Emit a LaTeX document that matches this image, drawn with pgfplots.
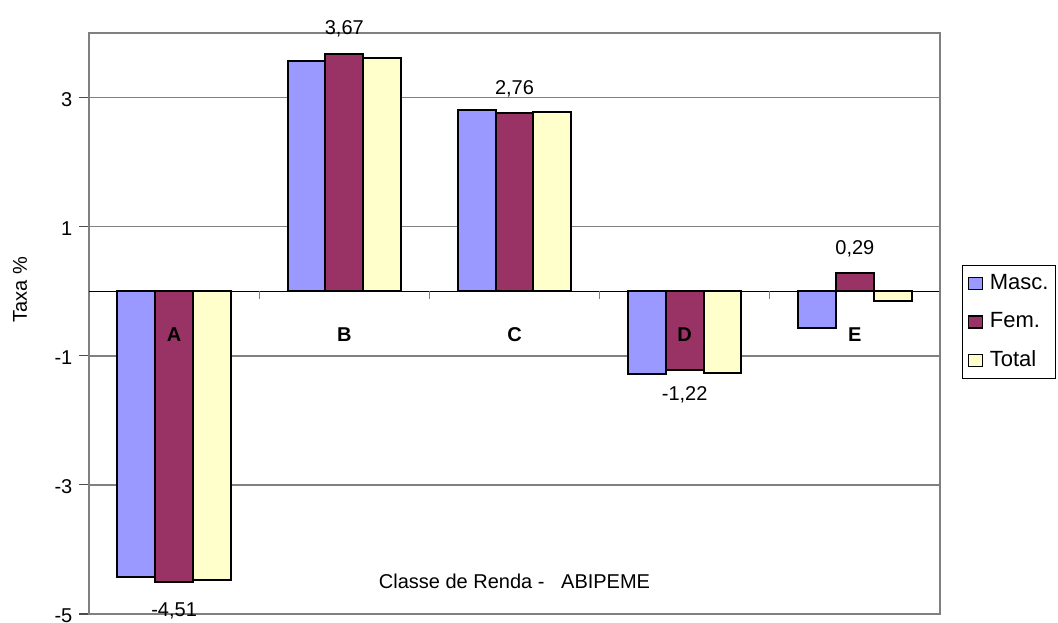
\documentclass[border=0pt]{standalone}
\usepackage{fontspec}
\setmainfont{Liberation Sans}
\usepackage{pgfplots}
\pgfplotsset{compat=1.18}
\definecolor{masc}{HTML}{9999FF}
\definecolor{fem}{HTML}{993366}
\definecolor{tot}{HTML}{FFFFCC}
\definecolor{axgray}{HTML}{808080}
\newcommand{\ff}{\fontsize{15}{18}\selectfont}
\newcommand{\lf}{\fontsize{16.5}{19}\selectfont}
\pgfplotsset{
  mybar/.style={ybar, bar width=28.35pt, draw=black, line width=1.5pt,
    legend image code/.code={\draw[##1, line width=1pt] (0pt,-4.5pt) rectangle (10.5pt,4.5pt);
      \path[draw=none, fill=none] (0pt,0pt) -- (15pt,0pt);}},
  lbl/.style={forget plot, draw=none, mark=none, nodes near coords,
    point meta=explicit symbolic,
    every node near coord/.append style={inner sep=0pt, text height=0pt, text depth=0pt, font=#1, black}},
}
\begin{document}
\begin{tikzpicture}
\useasboundingbox (0,0) rectangle (793.5pt,466.5pt);
\begin{axis}[
  at={(66.75pt,6pt)}, anchor=south west,
  scale only axis, width=638.25pt, height=435.75pt,
  xmin=0.5, xmax=5.5, ymin=-5, ymax=4,
  clip=false,
  axis line style={axgray, line width=1.5pt},
  xtick=\empty,
  ytick={-5,-3,-1,1,3},
  yticklabels={-5,-3,-1,1,3},
  tick align=outside,
  tick pos=left,
  major tick length=7.5pt,
  ytick style={black!70, line width=0.8pt},
  ymajorgrids,
  grid style={axgray, line width=1.1pt},
  extra y ticks={0},
  extra y tick labels={},
  extra y tick style={grid style={black, line width=1pt}, major tick length=0pt},
  tick label style={font=\ff},
  yticklabel style={xshift=-1.5pt, yshift=-1.2pt},
  label style={font=\ff},
  ylabel={Taxa \%},
  ylabel style={at={(axis description cs:-0.0811,0.5577)}, anchor=center},
  xlabel={Classe de Renda -\ \ \ ABIPEME},
  xlabel style={at={(axis description cs:0.5,0.0447)}, anchor=base},
  legend style={at={(rel axis cs:1,0.6007)}, anchor=north west, xshift=16.5pt,
    draw=black, line width=0.8pt, font=\lf, inner xsep=4pt, inner ysep=5pt,
    row sep=11.75pt, nodes={inner sep=1pt, text height=12pt, text depth=3pt}},
  legend cell align=left,
]
\addplot[mybar, bar shift=-28.35pt, fill=masc] coordinates {(1,-4.42) (2,3.57) (3,2.81) (4,-1.28) (5,-0.57)};
\addplot[mybar, bar shift=0pt, fill=fem] coordinates {(1,-4.51) (2,3.67) (3,2.76) (4,-1.22) (5,0.29)};
\addplot[mybar, bar shift=28.35pt, fill=tot] coordinates {(1,-4.48) (2,3.61) (3,2.78) (4,-1.26) (5,-0.15)};
\legend{Masc.,Fem.,Total}
\addplot[lbl=\ff] coordinates {(1,-5.05) [{-4,51}] (2,3.97) [{3,67}] (3,3.04) [{2,76}] (4,-1.70) [{-1,22}] (5,0.56) [{0,29}]};
\addplot[lbl=\ff\bfseries] coordinates {(1,-0.79) [A] (2,-0.79) [B] (3,-0.79) [C] (4,-0.79) [D] (5,-0.79) [E]};
\draw[axgray, line width=1pt] (axis cs:1.5,0) -- ([yshift=-6pt]axis cs:1.5,0);
\draw[axgray, line width=1pt] (axis cs:2.5,0) -- ([yshift=-6pt]axis cs:2.5,0);
\draw[axgray, line width=1pt] (axis cs:3.5,0) -- ([yshift=-6pt]axis cs:3.5,0);
\draw[axgray, line width=1pt] (axis cs:4.5,0) -- ([yshift=-6pt]axis cs:4.5,0);
\draw[axgray, line width=1pt] (axis cs:5.5,0) -- ([yshift=-6pt]axis cs:5.5,0);
\end{axis}
\end{tikzpicture}
\end{document}
